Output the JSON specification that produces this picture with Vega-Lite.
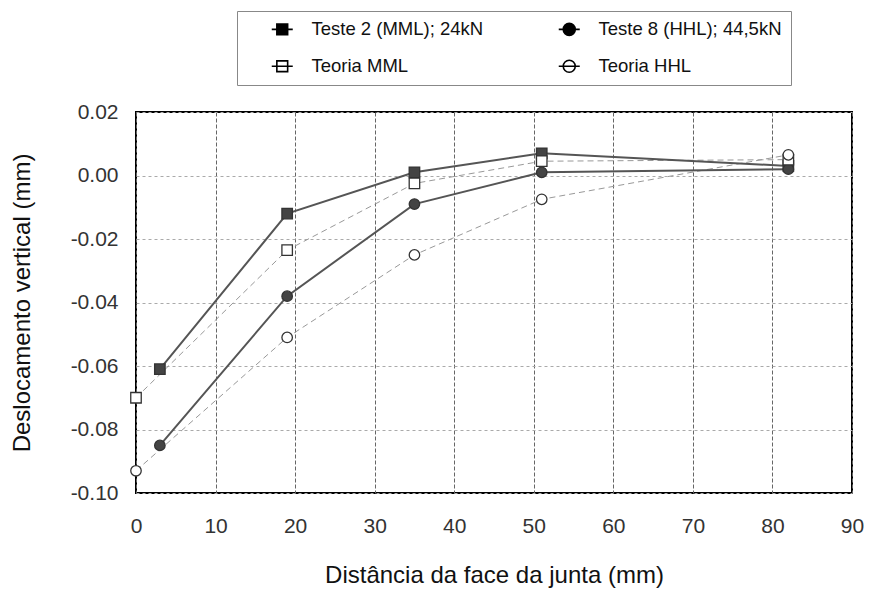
{
  "$schema": "https://vega.github.io/schema/vega-lite/v6.json",
  "width": 716,
  "height": 381,
  "autosize": {"type": "none"},
  "padding": {"left": 136, "top": 112, "right": 17, "bottom": 98},
  "background": "white",
  "config": {
    "font": "Liberation Sans",
    "view": {"stroke": "black", "strokeWidth": 2},
    "locale": {"number": {"decimal": ".", "thousands": ",", "grouping": [3], "currency": ["$", ""], "minus": "-"}}
  },
  "data": {
    "values": [
      {"series": "Teste 2 (MML); 24kN", "type": "exp", "x": 3, "y": -0.061},
      {"series": "Teste 2 (MML); 24kN", "type": "exp", "x": 19, "y": -0.012},
      {"series": "Teste 2 (MML); 24kN", "type": "exp", "x": 35, "y": 0.001},
      {"series": "Teste 2 (MML); 24kN", "type": "exp", "x": 51, "y": 0.007},
      {"series": "Teste 2 (MML); 24kN", "type": "exp", "x": 82, "y": 0.003},
      {"series": "Teste 8 (HHL); 44,5kN", "type": "exp", "x": 3, "y": -0.085},
      {"series": "Teste 8 (HHL); 44,5kN", "type": "exp", "x": 19, "y": -0.038},
      {"series": "Teste 8 (HHL); 44,5kN", "type": "exp", "x": 35, "y": -0.009},
      {"series": "Teste 8 (HHL); 44,5kN", "type": "exp", "x": 51, "y": 0.001},
      {"series": "Teste 8 (HHL); 44,5kN", "type": "exp", "x": 82, "y": 0.002},
      {"series": "Teoria MML", "type": "teo", "x": 0, "y": -0.070},
      {"series": "Teoria MML", "type": "teo", "x": 19, "y": -0.0235},
      {"series": "Teoria MML", "type": "teo", "x": 35, "y": -0.0025},
      {"series": "Teoria MML", "type": "teo", "x": 51, "y": 0.0045},
      {"series": "Teoria MML", "type": "teo", "x": 82, "y": 0.005},
      {"series": "Teoria HHL", "type": "teo", "x": 0, "y": -0.093},
      {"series": "Teoria HHL", "type": "teo", "x": 19, "y": -0.051},
      {"series": "Teoria HHL", "type": "teo", "x": 35, "y": -0.025},
      {"series": "Teoria HHL", "type": "teo", "x": 51, "y": -0.0075},
      {"series": "Teoria HHL", "type": "teo", "x": 82, "y": 0.0065}
    ]
  },
  "encoding": {
    "x": {
      "field": "x", "type": "quantitative",
      "scale": {"domain": [0, 90], "nice": false, "zero": false},
      "axis": {
        "title": "Distância da face da junta (mm)",
        "values": [0, 10, 20, 30, 40, 50, 60, 70, 80, 90],
        "format": "d",
        "domain": false, "ticks": false,
        "labelPadding": 22, "labelFontSize": 21, "labelColor": "#333", "labelFlush": false,
        "titleFontSize": 24, "titleFontWeight": "normal", "titleColor": "#111", "titlePadding": 27,
        "grid": true, "gridColor": "#666", "gridDash": [4, 2], "gridWidth": 1
      }
    },
    "y": {
      "field": "y", "type": "quantitative",
      "scale": {"domain": [-0.1, 0.02], "nice": false, "zero": false},
      "axis": {
        "title": "Deslocamento vertical (mm)",
        "values": [-0.1, -0.08, -0.06, -0.04, -0.02, 0, 0.02],
        "format": ".2f",
        "domain": false, "ticks": false,
        "labelPadding": 18, "labelFontSize": 21, "labelColor": "#333", "labelFlush": false,
        "titleFontSize": 24, "titleFontWeight": "normal", "titleColor": "#111", "titlePadding": 36,
        "grid": true, "gridColor": "#aaa", "gridDash": [3, 3], "gridWidth": 1
      }
    }
  },
  "layer": [
    {
      "transform": [{"filter": "datum.type === 'teo'"}],
      "mark": {"type": "line", "color": "#999", "strokeWidth": 1, "strokeDash": [6, 4]},
      "encoding": {"detail": {"field": "series"}}
    },
    {
      "transform": [{"filter": "datum.type === 'exp'"}],
      "mark": {"type": "line", "color": "#555", "strokeWidth": 2},
      "encoding": {"detail": {"field": "series"}}
    },
    {
      "layer": [
        {
          "mark": {"type": "point", "size": 110, "stroke": "#333", "strokeWidth": 1.3, "opacity": 1},
          "encoding": {
            "shape": {
              "field": "series", "type": "nominal",
              "scale": {
                "domain": ["Teste 2 (MML); 24kN", "Teste 8 (HHL); 44,5kN", "Teoria MML", "Teoria HHL"],
                "range": ["square", "circle", "square", "circle"]
              },
              "legend": null
            },
            "fill": {
              "field": "series", "type": "nominal",
              "scale": {
                "domain": ["Teste 2 (MML); 24kN", "Teste 8 (HHL); 44,5kN", "Teoria MML", "Teoria HHL"],
                "range": ["#444", "#444", "white", "white"]
              },
              "legend": null
            }
          }
        },
        {
          "transform": [{"filter": "datum.x < -1000"}],
          "mark": {"type": "point", "size": 144, "strokeWidth": 1.5, "opacity": 1, "filled": false},
          "encoding": {
            "shape": {
              "field": "series", "type": "nominal",
              "scale": {
                "domain": ["Teste 2 (MML); 24kN", "Teste 8 (HHL); 44,5kN", "Teoria MML", "Teoria HHL"],
                "range": [
                  "M-1.75,0H1.75M-0.9,-0.9H0.9V0.9H-0.9Z",
                  "M-1.75,0H1.75M1,0A1,1 0 1,1 -1,0A1,1 0 1,1 1,0Z",
                  "M-1.75,0H1.75M-0.9,-0.9H0.9V0.9H-0.9Z",
                  "M-1.75,0H1.75M1,0A1,1 0 1,1 -1,0A1,1 0 1,1 1,0Z"
                ]
              },
              "legend": {
                "title": " ",
                "titleOrient": "left",
                "titleFontSize": 1,
                "titlePadding": 27,
                "orient": "none",
                "legendX": 101,
                "legendY": -101,
                "direction": "horizontal",
                "columns": 2,
                "padding": 9,
                "rowPadding": 18,
                "columnPadding": 71,
                "strokeColor": "#888",
                "fillColor": "white",
                "labelFontSize": 18.5,
                "labelColor": "#111",
                "labelOffset": 20,
                "symbolSize": 144,
                "symbolOpacity": 1,
                "symbolStrokeColor": "black",
                "symbolStrokeWidth": 1.6,
                "labelLimit": 300,
                "encode": {
                  "symbols": {
                    "stroke": {"value": "black"},
                    "strokeWidth": {"value": 1.6},
                    "strokeOpacity": {"value": 1}
                  }
                }
              }
            },
            "fill": {
              "field": "series", "type": "nominal",
              "scale": {
                "domain": ["Teste 2 (MML); 24kN", "Teste 8 (HHL); 44,5kN", "Teoria MML", "Teoria HHL"],
                "range": ["black", "black", "white", "white"]
              },
              "legend": null
            },
            "stroke": {
              "field": "series", "type": "nominal",
              "scale": {
                "domain": ["Teste 2 (MML); 24kN", "Teste 8 (HHL); 44,5kN", "Teoria MML", "Teoria HHL"],
                "range": ["black", "black", "black", "black"]
              },
              "legend": null
            }
          }
        }
      ],
      "resolve": {
        "scale": {"shape": "independent", "fill": "independent", "stroke": "independent"},
        "legend": {"shape": "independent", "fill": "independent", "stroke": "independent"}
      }
    }
  ]
}
